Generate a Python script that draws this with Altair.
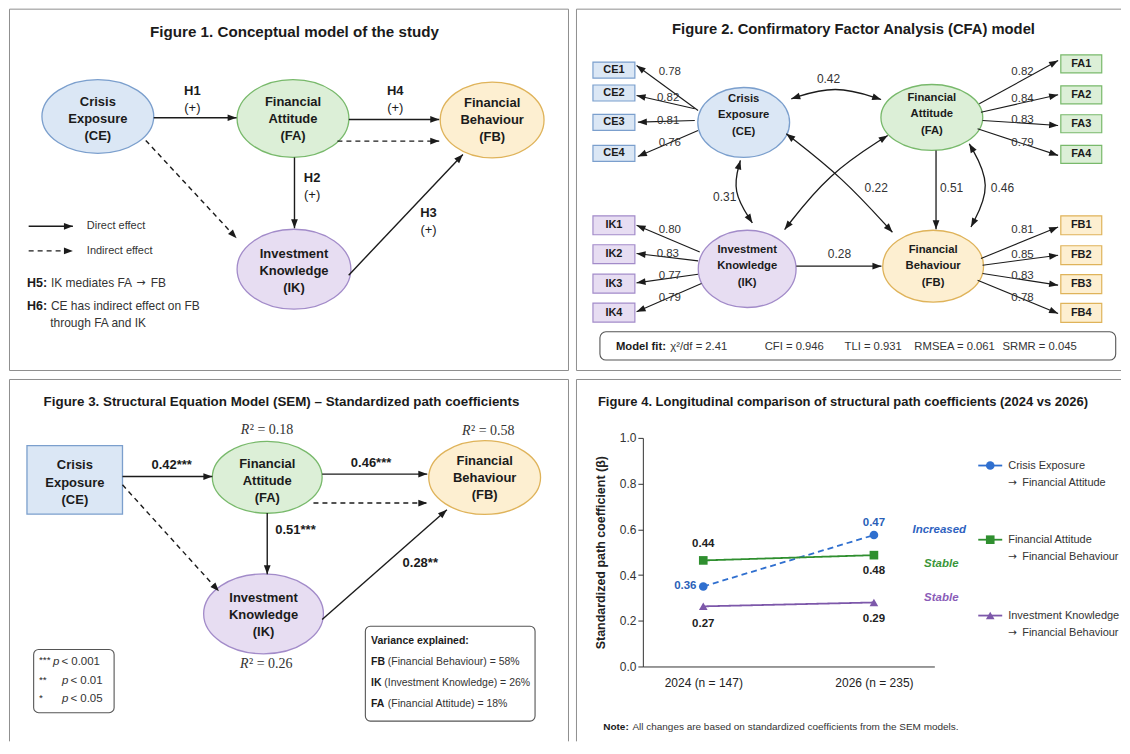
import math
import altair as alt
import pandas as pd

# ------------------------------------------------------------------ text & values
TITLE1 = "Figure 1. Conceptual model of the study"
TITLE2 = "Figure 2. Confirmatory Factor Analysis (CFA) model"
TITLE3 = "Figure 3. Structural Equation Model (SEM) \u2013 Standardized path coefficients"
TITLE4 = "Figure 4. Longitudinal comparison of structural path coefficients (2024 vs 2026)"

NODE_LINES = {
    "CE": ["Crisis", "Exposure", "(CE)"],
    "FA": ["Financial", "Attitude", "(FA)"],
    "FB": ["Financial", "Behaviour", "(FB)"],
    "IK": ["Investment", "Knowledge", "(IK)"],
}
HYPOTHESES = ["H1", "H4", "H2", "H3"]
HYP_SIGN = "(+)"
LEGEND1 = ["Direct effect", "Indirect effect"]
H_TAGS = ["H5:", "H6:"]
H5_PARTS = ["IK mediates FA", "\u2192", "FB"]
H6_TEXT = "CE has indirect effect on FB"
H6_CONT = "through FA and IK"

CE_ITEMS = ["CE1", "CE2", "CE3", "CE4"]
FA_ITEMS = ["FA1", "FA2", "FA3", "FA4"]
IK_ITEMS = ["IK1", "IK2", "IK3", "IK4"]
FB_ITEMS = ["FB1", "FB2", "FB3", "FB4"]
CE_LOAD = [0.78, 0.82, 0.81, 0.76]
FA_LOAD = [0.82, 0.84, 0.83, 0.79]
IK_LOAD = [0.80, 0.83, 0.77, 0.79]
FB_LOAD = [0.81, 0.85, 0.83, 0.78]
# CE-FA, CE-IK, CE-FB, FA-FB, FA-FB (cov), IK-FB
CFA_PATHS = [0.42, 0.31, 0.22, 0.51, 0.46, 0.28]
FIT_LABELS = ["Model fit:", "\u03c7\u00b2/df = 2.41", "CFI = 0.946", "TLI = 0.931",
              "RMSEA = 0.061", "SRMR = 0.045"]

SEM_COEF = ["0.42***", "0.46***", "0.51***", "0.28**"]
R2_VALUES = ["0.18", "0.58", "0.26"]
P_STARS = ["***", "**", "*"]
P_TEXT = ["< 0.001", "< 0.01", "< 0.05"]
VAR_TITLE = "Variance explained:"
VAR_ABBR = ["FB", "IK", "FA"]
VAR_TEXT = ["(Financial Behaviour) = 58%", "(Investment Knowledge) = 26%",
            "(Financial Attitude) = 18%"]

YEARS = ["2024 (n = 147)", "2026 (n = 235)"]
SERIES = ["Crisis Exposure \u2192 Financial Attitude",
          "Financial Attitude \u2192 Financial Behaviour",
          "Investment Knowledge \u2192 Financial Behaviour"]
BETA_CE_FA = [0.35, 0.575]
BETA_FA_FB = [0.464, 0.487]
BETA_IK_FB = [0.263, 0.28]
LABEL_CE_FA = ["0.36", "0.47"]
LABEL_FA_FB = ["0.44", "0.48"]
LABEL_IK_FB = ["0.27", "0.29"]
TRENDS = ["Increased", "Stable", "Stable"]
NOTE_TAG = "Note:"
NOTE_TEXT = "All changes are based on standardized coefficients from the SEM models."

# ------------------------------------------------------------------ styles
FONT = "Liberation Sans, Arial, Helvetica, sans-serif"
ARROWFONT = "DejaVu Sans, sans-serif"
SERIF = "Liberation Serif, Times New Roman, serif"
INK = "#1b1b1b"
GREY = "#333333"
BORDER = "#8f8f8f"
FILL = {"CE": "#dbe7f5", "FA": "#dcefd7", "FB": "#fdefd1", "IK": "#e7ddf2"}
EDGE = {"CE": "#7b9fcd", "FA": "#78b96b", "FB": "#dfb35a", "IK": "#a28bc9"}
SERIES_COLORS = ["#2f6fcf", "#2f8f2f", "#7d58aa"]
TREND_COLORS = ["#2e62c0", "#3a963a", "#8a5cb8"]
ARROW = "M0,0 L-0.9,2.4 L0.9,2.4 Z"
ARROW_SIZE = 56


def ellipse_path(rx, ry):
    k = 0.5523
    r = ry / rx
    return (f"M-1,0 C-1,{-k*r:.4f} {-k},{-r:.4f} 0,{-r:.4f} "
            f"C{k},{-r:.4f} 1,{-k*r:.4f} 1,0 "
            f"C1,{k*r:.4f} {k},{r:.4f} 0,{r:.4f} "
            f"C{-k},{r:.4f} -1,{k*r:.4f} -1,0 Z")


def head_angle(frm, to):
    dx, dy = to[0] - frm[0], to[1] - frm[1]
    return (math.degrees(math.atan2(dx, -dy)) + 360.0) % 360.0


class Panel:
    """A diagram panel drawn in page-pixel coordinates through linear scales."""

    def __init__(self, ox, oy, w, h):
        self.w, self.h = w, h
        self.sx = alt.Scale(domain=[ox, ox + w], nice=False, zero=False)
        self.sy = alt.Scale(domain=[oy, oy + h], nice=False, zero=False, reverse=True)
        self.layers = []

    def X(self, f="x"):
        return alt.X(f"{f}:Q", scale=self.sx, axis=None)

    def Y(self, f="y"):
        return alt.Y(f"{f}:Q", scale=self.sy, axis=None)

    def rects(self, rows, fill, stroke, sw=1.0, radius=0, fill_opacity=1.0):
        df = pd.DataFrame(rows, columns=["x", "y", "x2", "y2"])
        self.layers.append(
            alt.Chart(df).mark_rect(fill=fill, fillOpacity=fill_opacity, stroke=stroke,
                                    strokeWidth=sw, cornerRadius=radius)
            .encode(x=self.X("x"), x2=alt.X2("x2"), y=self.Y("y"), y2=alt.Y2("y2")))

    def segments(self, rows, color=BORDER, sw=1.0):
        df = pd.DataFrame(rows, columns=["x", "y", "x2", "y2"])
        self.layers.append(
            alt.Chart(df).mark_rule(color=color, strokeWidth=sw)
            .encode(x=self.X("x"), x2=alt.X2("x2"), y=self.Y("y"), y2=alt.Y2("y2")))

    def ellipse(self, cx, cy, rx, ry, fill, stroke):
        df = pd.DataFrame({"x": [cx], "y": [cy]})
        self.layers.append(
            alt.Chart(df).mark_point(shape=ellipse_path(rx, ry), size=(2 * rx) ** 2,
                                     filled=True, fill=fill, stroke=stroke,
                                     strokeWidth=1.3, opacity=1, fillOpacity=1)
            .encode(x=self.X(), y=self.Y()))

    def heads(self, rows):
        df = pd.DataFrame(rows, columns=["x", "y", "a"])
        self.layers.append(
            alt.Chart(df).mark_point(shape=ARROW, size=ARROW_SIZE, filled=True,
                                     color=INK, opacity=1, strokeWidth=0)
            .encode(x=self.X(), y=self.Y(), angle=alt.Angle("a:Q", scale=None)))

    def arrows(self, segs, dashed=False, sw=1.4):
        rows, hd = [], []
        for (x1, y1, x2, y2) in segs:
            rows.append((x1, y1, x2, y2))
            hd.append((x2, y2, head_angle((x1, y1), (x2, y2))))
        df = pd.DataFrame(rows, columns=["x", "y", "x2", "y2"])
        kw = dict(color=INK, strokeWidth=sw)
        if dashed:
            kw["strokeDash"] = [5, 4]
        self.layers.append(
            alt.Chart(df).mark_rule(**kw)
            .encode(x=self.X("x"), x2=alt.X2("x2"), y=self.Y("y"), y2=alt.Y2("y2")))
        self.heads(hd)

    def curves(self, specs, sw=1.3):
        rows, hd = [], []
        for i, (A, M, B) in enumerate(specs):
            P = ((6 * M[0] - A[0] - B[0]) / 4.0, (6 * M[1] - A[1] - B[1]) / 4.0)
            for j, pt in enumerate([A, P, B]):
                rows.append({"id": i, "o": j, "x": pt[0], "y": pt[1]})
            hd.append((A[0], A[1], head_angle(P, A)))
            hd.append((B[0], B[1], head_angle(P, B)))
        df = pd.DataFrame(rows)
        self.layers.append(
            alt.Chart(df).mark_line(interpolate="basis", color=INK, strokeWidth=sw)
            .encode(x=self.X(), y=self.Y(), detail="id:N", order="o:Q"))
        self.heads(hd)

    def texts(self, rows, size, weight="normal", style="normal", align="center",
              color=INK, font=FONT):
        df = pd.DataFrame(rows, columns=["x", "y", "t"])
        self.layers.append(
            alt.Chart(df).mark_text(align=align, baseline="middle", font=font,
                                    fontSize=size, fontWeight=weight, fontStyle=style,
                                    color=color)
            .encode(x=self.X(), y=self.Y(), text=alt.Text("t:N")))

    def node_text(self, key, cx, cy, gap, size=14):
        lines = NODE_LINES[key]
        rows = [(cx, cy + (i - 1) * gap, t) for i, t in enumerate(lines)]
        self.texts(rows, size, weight="bold")

    def chart(self):
        return alt.layer(*self.layers).properties(width=self.w, height=self.h)


# ================================================================== Panel 1
p1 = Panel(8, 8, 561, 363)
p1.segments([(8.5, 8.5, 568.5, 8.5), (8.5, 370.5, 568.5, 370.5),
             (8.5, 8.5, 8.5, 370.5), (568.5, 8.5, 568.5, 370.5)])
P1_NODES = {"CE": (97, 116, 56, 37, 118.5), "FA": (292.5, 118, 56, 39, 119),
            "FB": (492, 119.5, 52, 38, 119.5), "IK": (293.5, 269, 57, 40, 270.5)}
for k, (cx, cy, rx, ry, ty) in P1_NODES.items():
    p1.ellipse(cx, cy, rx, ry, FILL[k], EDGE[k])
    p1.node_text(k, cx, ty, 17, 13)
p1.arrows([(153, 117.3, 236, 117.3), (348.5, 119, 439, 119), (294, 157, 294, 228),
           (348.3, 275, 462.7, 154), (27.7, 226, 72, 226)])
p1.arrows([(337, 140.7, 439, 140.7), (145, 140, 236, 238), (27.7, 250.7, 72, 250.7)],
          dashed=True)
HYP_POS = [(191.7, 90.5), (395, 90.3), (311.7, 177.3), (428.3, 212.7)]
p1.texts([(x, y, t) for (x, y), t in zip(HYP_POS, HYPOTHESES)], 13, weight="bold")
p1.texts([(x, y + 17, HYP_SIGN) for (x, y) in HYP_POS], 13)
p1.texts([(86, 226, LEGEND1[0]), (86, 250.7, LEGEND1[1])], 11, align="left", color=GREY)
p1.texts([(26, 282.7, H_TAGS[0]), (26, 306, H_TAGS[1])], 12.5, weight="bold", align="left")
p1.texts([(50, 282.7, H5_PARTS[0]), (150, 282.7, H5_PARTS[2]), (50, 306, H6_TEXT),
          (49.3, 323.3, H6_CONT)], 12, align="left", color=GREY)
p1.texts([(135.5, 282.7, H5_PARTS[1])], 11, align="left", color=GREY, font=ARROWFONT)
p1.texts([(294, 31, TITLE1)], 15.2, weight="bold")

# ================================================================== Panel 2
p2 = Panel(576, 8, 546, 363)
p2.segments([(576.5, 8.5, 1122, 8.5), (576.5, 370.5, 1122, 370.5),
             (576.5, 8.5, 576.5, 370.5)])
P2_NODES = {"CE": (744, 122, 46, 35, 115), "FA": (932.5, 117, 51, 33, 114),
            "IK": (747.5, 268.7, 49, 38.7, 266), "FB": (933.8, 266, 50.5, 36, 266.3)}
for k, (cx, cy, rx, ry, ty) in P2_NODES.items():
    p2.ellipse(cx, cy, rx, ry, FILL[k], EDGE[k])
    p2.node_text(k, cx, ty, 16.7, 11.3)

BOX_LAYOUT = {
    "CE": (593, 635, [69.5, 92.5, 122, 153], 16, CE_ITEMS),
    "IK": (593, 635, [225, 254, 283.5, 312.5], 19, IK_ITEMS),
    "FA": (1061.7, 1102.7, [63.3, 94.3, 123.3, 154], 18, FA_ITEMS),
    "FB": (1061.7, 1102.7, [225, 255, 284, 312.7], 19, FB_ITEMS),
}
for k, (x0, x1, cys, h, items) in BOX_LAYOUT.items():
    p2.rects([(x0, c - h / 2, x1, c + h / 2) for c in cys], FILL[k], EDGE[k], sw=1.2)
    p2.texts([((x0 + x1) / 2, c, t) for c, t in zip(cys, items)], 11, weight="bold")

LOAD_ARROWS = {
    "CE": ([(698.3, 110), (695, 108.3), (695, 120), (698.3, 130)],
           [(636.7, 65), (636.7, 95), (638, 121.7), (638, 156)],
           [(670, 71.7), (668.3, 97.7), (668.3, 120.7), (670, 142.3)], CE_LOAD),
    "IK": ([(700, 251.7), (698.3, 260.7), (698.3, 274), (701.7, 283.3)],
           [(636.7, 225), (636.7, 253.3), (636.7, 282.7), (636.7, 311.7)],
           [(670, 230), (668, 254), (670, 275.7), (670, 298.3)], IK_LOAD),
    "FA": ([(980, 103.3), (981.7, 111.7), (983.3, 120), (978.3, 128.3)],
           [(1059, 60), (1059, 94.3), (1059, 125), (1059, 155)],
           [(1023.3, 71), (1023.3, 98.3), (1023.3, 120), (1023.3, 142.7)], FA_LOAD),
    "FB": ([(981.7, 258.3), (983.3, 265), (983.3, 273.3), (978.3, 280)],
           [(1059, 226.7), (1059, 255), (1059, 285), (1059, 313.3)],
           [(1023.3, 230), (1023.3, 255), (1023.3, 276), (1023.3, 298.3)], FB_LOAD),
}
for k, (starts, ends, lpos, vals) in LOAD_ARROWS.items():
    p2.arrows([(s[0], s[1], e[0], e[1]) for s, e in zip(starts, ends)], sw=1.1)
    p2.texts([(x, y, f"{v:.2f}") for (x, y), v in zip(lpos, vals)], 11.5, color=GREY)

p2.arrows([(796.7, 266, 882, 266), (936.7, 150, 936.7, 229)], sw=1.3)
p2.curves([((791.7, 98.3), (836, 89), (881.7, 99)),
           ((740.7, 160), (737, 191), (752.7, 222.7)),
           ((888.3, 135), (831.3, 176.3), (785, 229.3)),
           ((786.7, 133.3), (842, 179), (893, 232)),
           ((970, 143.3), (986, 185), (971.7, 226.7))])
PATH_POS = [(829, 78), (725, 196.7), (876.7, 187.7), (952.3, 187.7), (1003.3, 187.7),
            (840, 253.3)]
p2.texts([(x, y, f"{v:.2f}") for (x, y), v in zip(PATH_POS, CFA_PATHS)], 12, color=GREY)

p2.rects([(600, 331.7, 1116.7, 360)], "white", "#555555", sw=1.1, radius=6)
FIT_X = [616, 670.5, 765, 845, 915, 1003.3]
p2.texts([(FIT_X[0], 346.7, FIT_LABELS[0])], 11.3, weight="bold", align="left")
p2.texts([(x, 346.7, t) for x, t in zip(FIT_X[1:], FIT_LABELS[1:])], 11.3, align="left",
         color=GREY)
p2.texts([(854, 29, TITLE2)], 14.8, weight="bold")

# ================================================================== Panel 3
# plot origin at the top of the plot row (y = 438); border and title sit above it
p3 = Panel(8, 438, 561, 304)
p3.segments([(8.5, 379.5, 568.5, 379.5), (8.5, 379.5, 8.5, 742),
             (568.5, 379.5, 568.5, 742)])
p3.rects([(26, 445.7, 121.7, 514.3)], FILL["CE"], EDGE["CE"], sw=1.3)
p3.node_text("CE", 74, 482.7, 18, 13)
P3_NODES = {"FA": (266.7, 477.5, 55, 36, 481), "FB": (484.5, 477.7, 56, 37, 478.3),
            "IK": (263, 614.3, 60, 40, 615.5)}
for k, (cx, cy, rx, ry, ty) in P3_NODES.items():
    p3.ellipse(cx, cy, rx, ry, FILL[k], EDGE[k])
    p3.node_text(k, cx, ty, 17, 13)
p3.arrows([(121.7, 476.7, 211.7, 476.7), (321.7, 474.3, 427, 474.3),
           (266.7, 513.3, 266.7, 574.5), (321.7, 620, 446.7, 510)])
p3.arrows([(313, 503.3, 427, 503.3), (121.7, 485, 218.3, 591.7)], dashed=True)
COEF_POS = [(171, 465), (370.7, 463.3), (295, 530), (420, 563.3)]
p3.texts([(x, y, t) for (x, y), t in zip(COEF_POS, SEM_COEF)], 13, weight="bold")
R2_POS = [(266.7, 430), (488.3, 431), (266, 665)]
p3.texts([(x - 26.5, y, "R") for (x, y) in R2_POS], 14, style="italic", align="left",
         color=GREY, font=SERIF)
p3.texts([(x - 17.5, y, "\u00b2 = " + v) for (x, y), v in zip(R2_POS, R2_VALUES)], 14,
         align="left", color=GREY, font=SERIF)

p3.rects([(32.7, 650, 113.3, 713.3)], "white", "#555555", sw=1.1, radius=5)
P_ROWS = [(38, 52, 662.3), (38, 61, 681.7), (38, 61, 700)]
p3.texts([(sx, y - 1.5, s) for (sx, px, y), s in zip(P_ROWS, P_STARS)], 10, align="left")
p3.texts([(px, y, "p") for (sx, px, y) in P_ROWS], 11.5, style="italic", align="left",
         color=GREY)
p3.texts([(px + 8.5, y, t) for (sx, px, y), t in zip(P_ROWS, P_TEXT)], 11.5, align="left",
         color=GREY)

p3.rects([(365, 626.7, 535, 721.7)], "white", "#555555", sw=1.1, radius=5)
p3.texts([(370.7, 641.7, VAR_TITLE)], 10.5, weight="bold", align="left")
VAR_Y = [662.3, 683.3, 705]
VAR_X2 = [387.5, 384, 387.5]
p3.texts([(370.7, y, a) for y, a in zip(VAR_Y, VAR_ABBR)], 10.5, weight="bold",
         align="left")
p3.texts([(x, y, t) for x, y, t in zip(VAR_X2, VAR_Y, VAR_TEXT)], 10.5, align="left",
         color=GREY)
p3.texts([(281, 401.7, TITLE3)], 13.4, weight="bold")

# ================================================================== Panel 4
rows4 = []
for s, vals, labs in zip(SERIES, [BETA_CE_FA, BETA_FA_FB, BETA_IK_FB],
                         [LABEL_CE_FA, LABEL_FA_FB, LABEL_IK_FB]):
    for yr, v, lb in zip(YEARS, vals, labs):
        rows4.append({"year": yr, "series": s, "beta": v, "label": lb})
df4 = pd.DataFrame(rows4)

W4, H4 = 292, 229
xenc = alt.X("year:N", sort=YEARS,
             scale=alt.Scale(type="point", domain=YEARS, padding=0.354),
             axis=alt.Axis(title=None, labelAngle=0, ticks=False, labelFont=FONT,
                           labelFontSize=12, labelColor="#222", labelPadding=11,
                           domainColor=GREY, grid=False))
yenc = alt.Y("beta:Q", scale=alt.Scale(domain=[0, 1], nice=False, zero=True),
             axis=alt.Axis(values=[0, 0.2, 0.4, 0.6, 0.8, 1.0], format=".1f", grid=False,
                           title="Standardized path coefficient (\u03b2)", titleFont=FONT,
                           titleFontSize=12.5, titleFontWeight="bold", titleColor="#222",
                           titlePadding=12, labelFont=FONT, labelFontSize=12,
                           labelColor="#333", tickColor=GREY, domainColor=GREY))
cscale = alt.Scale(domain=SERIES, range=SERIES_COLORS)
base4 = alt.Chart(df4).encode(x=xenc, y=yenc)
lines4 = base4.mark_line(strokeWidth=1.8).encode(
    color=alt.Color("series:N", scale=cscale, legend=None),
    strokeDash=alt.StrokeDash("series:N", scale=alt.Scale(domain=SERIES,
                              range=[[6, 4], [1, 0], [1, 0]]), legend=None),
    detail="series:N")
points4 = base4.mark_point(filled=True, size=75, opacity=1).encode(
    color=alt.Color("series:N", scale=cscale, legend=None),
    shape=alt.Shape("series:N", scale=alt.Scale(domain=SERIES,
                    range=["circle", "square", "triangle-up"]), legend=None))

LABEL_OFFSETS = [[(-18, 0), (0, -12)], [(0, -16), (0, 16)], [(0, 18), (0, 17)]]
LABEL_COLORS = ["#2a5fb8", "#222222", "#222222"]
label_layers = []
for si, s in enumerate(SERIES):
    for yi, yr in enumerate(YEARS):
        dx, dy = LABEL_OFFSETS[si][yi]
        label_layers.append(
            base4.mark_text(dx=dx, dy=dy, font=FONT, fontSize=11.5, fontWeight="bold",
                            color=LABEL_COLORS[si], baseline="middle")
            .encode(text="label:N")
            .transform_filter((alt.datum.series == s) & (alt.datum.year == yr)))

one = pd.DataFrame({"k": [0]})


def deco_text(x, y, t, size, weight="normal", style="normal", align="left", color=INK,
              font=FONT):
    return alt.Chart(one).mark_text(text=t, align=align, baseline="middle", font=font,
                                    fontSize=size, fontWeight=weight, fontStyle=style,
                                    color=color).encode(x=alt.value(x), y=alt.value(y))


def deco_rule(x1, y1, x2, y2, color=BORDER, sw=1.0):
    return alt.Chart(one).mark_rule(color=color, strokeWidth=sw).encode(
        x=alt.value(x1), x2=alt.value(x2), y=alt.value(y1), y2=alt.value(y2))


# panel frame (top and left edges; the right and bottom edges are cut off in the figure)
frame4 = [deco_rule(-66.5, -58.5, 479, -58.5), deco_rule(-66.5, -58.5, -66.5, 304)]

deco = []
TREND_POS = [(297, 92), (299, 126), (299, 160.3)]
for (x, y), t, c in zip(TREND_POS, TRENDS, TREND_COLORS):
    deco.append(deco_text(x, y, t, 11.5, weight="bold", style="italic", align="center",
                          color=c))
LEG_Y = [27.7, 102, 178]
LEG_SHAPES = ["circle", "square", "triangle-up"]
for s, y, c, shp in zip(SERIES, LEG_Y, SERIES_COLORS, LEG_SHAPES):
    deco.append(deco_rule(336, y, 360, y, color=c, sw=1.8))
    deco.append(alt.Chart(one).mark_point(shape=shp, filled=True, size=75, color=c,
                                          opacity=1).encode(x=alt.value(348),
                                                            y=alt.value(y)))
    a, b = s.split(" \u2192 ")
    deco.append(deco_text(366, y, a, 11, color=GREY))
    deco.append(deco_text(366, y + 17.5, "\u2192", 10.5, color=GREY, font=ARROWFONT))
    deco.append(deco_text(380, y + 17.5, b, 11, color=GREY))
deco.append(deco_text(-45, -36.3, TITLE4, 13, weight="bold"))
deco.append(deco_text(-39.7, 289.7, NOTE_TAG, 10, weight="bold"))
deco.append(deco_text(-10.5, 289.7, NOTE_TEXT, 10, color=GREY))

p4 = alt.layer(*frame4, lines4, points4, *label_layers, *deco).properties(
    width=W4, height=H4)

# ================================================================== assemble
top = alt.hconcat(p1.chart(), p2.chart(), spacing=7)
bottom = alt.hconcat(p3.chart(), p4, spacing=7)
chart = alt.vconcat(top, bottom, spacing=8).properties(padding=0).configure_view(
    stroke=None)

chart.save("out.html", embed_options={"renderer": "svg", "actions": False})
